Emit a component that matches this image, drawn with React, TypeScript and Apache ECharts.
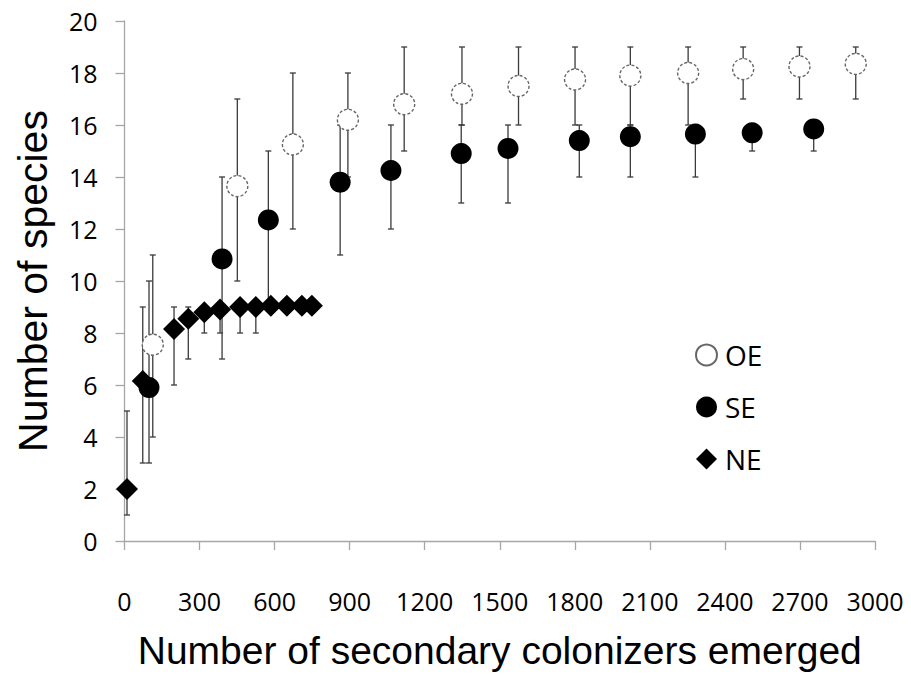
import React, { useEffect, useRef } from "react";
import * as echarts from "echarts";

const xTicks = [0, 300, 600, 900, 1200, 1500, 1800, 2100, 2400, 2700, 3000];

const oeX = [113, 451, 673, 893, 1118, 1349, 1575, 1801, 2022, 2253, 2473, 2698, 2923];
const oeY = [7.55, 13.65, 15.25, 16.2, 16.8, 17.2, 17.5, 17.75, 17.9, 18.0, 18.15, 18.25, 18.35];
const oeLow = [4, 10, 12, 14, 15, 16, 16, 16, 16, 16, 17, 17, 17];
const oeHigh = [11, 17, 18, 18, 19, 19, 19, 19, 19, 19, 19, 19, 19];

const seX = [98, 390, 575, 862, 1065, 1346, 1533, 1818, 2022, 2282, 2509, 2755];
const seY = [5.9, 10.85, 12.35, 13.8, 14.25, 14.9, 15.1, 15.4, 15.55, 15.65, 15.7, 15.85];
const seLow = [3, 7, 9, 11, 12, 13, 13, 14, 14, 14, 15, 15];
const seHigh = [10, 14, 15, 16, 16, 16, 16, 16, 16, 16, 16, 16];

const neX = [10, 73, 198, 255, 319, 382, 462, 525, 585, 649, 709, 749];
const neY = [2, 6.15, 8.15, 8.55, 8.8, 8.9, 9.0, 9.0, 9.05, 9.05, 9.05, 9.05];
const neLow = [1, 3, 6, 7, 8, 8, 8, 8, 9, 9, 9, 9];
const neHigh = [5, 9, 9, 9, 9, 9, 9, 9, 9, 9, 9, 9];

function errData(xs: number[], lo: number[], hi: number[]) {
  return xs.map((x, i) => [x, lo[i], hi[i]]);
}
function ptData(xs: number[], ys: number[]) {
  return xs.map((x, i) => [x, ys[i]]);
}

function errSeries(name: string, data: number[][]) {
  return {
    name,
    type: "custom",
    silent: true,
    data,
    encode: { x: 0, y: [1, 2] },
    renderItem: (params: any, api: any) => {
      const x = api.value(0);
      const lo = api.coord([x, api.value(1)]);
      const hi = api.coord([x, api.value(2)]);
      const w = 3;
      const style = { stroke: "#3a3a3a", lineWidth: 1.3 };
      return {
        type: "group",
        children: [
          { type: "line", shape: { x1: lo[0], y1: lo[1], x2: hi[0], y2: hi[1] }, style },
          { type: "line", shape: { x1: lo[0] - w, y1: lo[1], x2: lo[0] + w, y2: lo[1] }, style },
          { type: "line", shape: { x1: hi[0] - w, y1: hi[1], x2: hi[0] + w, y2: hi[1] }, style },
        ],
      };
    },
    z: 1,
  };
}

export default function App() {
  const ref = useRef<HTMLDivElement>(null);
  useEffect(() => {
    if (!ref.current) return;
    const chart = echarts.init(ref.current, null, { renderer: "svg" });
    const axisGray = "#a6a6a6";
    chart.setOption({
      animation: false,
      backgroundColor: "#ffffff",
      grid: { left: 124.5, right: 36, top: 21, bottom: 130.5, containLabel: false },
      xAxis: {
        type: "value",
        min: xTicks[0],
        max: xTicks[xTicks.length - 1],
        interval: xTicks[1] - xTicks[0],
        name: "Number of secondary colonizers emerged",
        nameLocation: "middle",
        nameGap: 90,
        nameTextStyle: { fontFamily: "Liberation Sans", fontSize: 39, color: "#000" },
        axisLine: { show: true, lineStyle: { color: axisGray, width: 1.3 } },
        axisTick: { show: true, length: 9, lineStyle: { color: axisGray, width: 1.3 } },
        axisLabel: { margin: 47, fontFamily: "Open Sans", fontSize: 25, color: "#000", formatter: (v: number) => String(v) },
        splitLine: { show: false },
      },
      yAxis: {
        type: "value",
        min: 0,
        max: 20,
        interval: 2,
        name: "Number of species",
        nameLocation: "middle",
        nameGap: 71,
        nameTextStyle: { fontFamily: "Liberation Sans", fontSize: 41, color: "#000" },
        axisLine: { show: true, lineStyle: { color: axisGray, width: 1.3 } },
        axisTick: { show: true, length: 9, lineStyle: { color: axisGray, width: 1.3 } },
        axisLabel: { margin: 27, fontFamily: "Open Sans", fontSize: 25, color: "#000", formatter: (v: number) => String(v) },
        splitLine: { show: false },
      },
      legend: {
        data: ["OE", "SE", "NE"],
        orient: "vertical",
        left: 690,
        top: 336,
        itemWidth: 21,
        itemHeight: 21,
        itemGap: 24,
        textStyle: { fontFamily: "Open Sans", fontSize: 28, color: "#000", padding: [0, 0, 0, 3] },
      },
      series: [
        errSeries("OE err", errData(oeX, oeLow, oeHigh)),
        errSeries("SE err", errData(seX, seLow, seHigh)),
        errSeries("NE err", errData(neX, neLow, neHigh)),
        {
          name: "OE",
          type: "scatter",
          symbol: "circle",
          symbolSize: 21,
          data: ptData(oeX, oeY),
          itemStyle: { color: "#ffffff", borderColor: "#666666", borderWidth: 1.4, borderType: [3, 2], opacity: 1 },
          z: 3,
        },
        {
          name: "SE",
          type: "scatter",
          symbol: "circle",
          symbolSize: 21,
          data: ptData(seX, seY),
          itemStyle: { color: "#000000", opacity: 1 },
          z: 4,
        },
        {
          name: "NE",
          type: "scatter",
          symbol: "diamond",
          symbolSize: 22,
          data: ptData(neX, neY),
          itemStyle: { color: "#000000", opacity: 1 },
          z: 5,
        },
      ],
    });
    return () => chart.dispose();
  }, []);
  return <div ref={ref} style={{ width: 911, height: 675, position: "absolute", left: 0, top: 0 }} />;
}
